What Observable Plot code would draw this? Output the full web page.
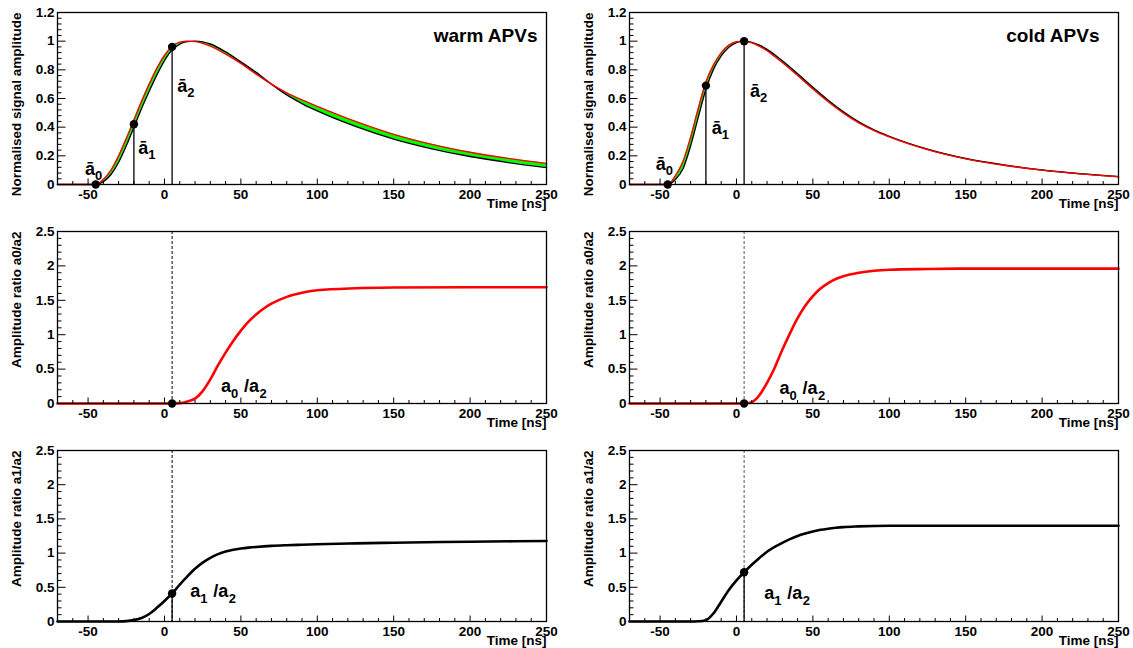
<!DOCTYPE html>
<html><head><meta charset="utf-8">
<script src="https://cdn.jsdelivr.net/npm/d3@7"></script>
<script src="https://cdn.jsdelivr.net/npm/@observablehq/plot@0.6"></script>
<style>
html,body{margin:0;padding:0;background:#fff;}
#chart{position:relative;width:1133px;height:648px;overflow:hidden;background:#fff;}
#chart > div{position:absolute;}
#chart svg{font-family:'Liberation Sans', Arial, Helvetica, sans-serif;font-weight:bold;}
</style></head><body><div id="chart"></div>
<script>
// ---------------- data ----------------
const timeTop   = [-70, -45, -40, -35, -30, -25, -20, -15, -10, -5, 0, 5, 10, 15, 20, 25, 30, 40, 50, 60, 70, 80, 90, 100, 125, 150, 175, 200, 225, 250];
const warmRed   = [0, 0, 0.035, 0.10, 0.20, 0.32, 0.45, 0.58, 0.70, 0.81, 0.90, 0.963, 0.993, 1.0, 0.997, 0.985, 0.965, 0.91, 0.845, 0.77, 0.70, 0.64, 0.59, 0.545, 0.44, 0.35, 0.28, 0.225, 0.182, 0.147];
const warmBlack = [0, 0, 0.02, 0.07, 0.155, 0.27, 0.40, 0.53, 0.65, 0.765, 0.865, 0.94, 0.98, 0.997, 1.0, 0.995, 0.98, 0.925, 0.855, 0.782, 0.70, 0.625, 0.565, 0.513, 0.405, 0.317, 0.249, 0.195, 0.153, 0.118];
const coldRed   = [0, 0, 0.06, 0.16, 0.33, 0.53, 0.715, 0.835, 0.918, 0.972, 0.996, 1.0, 0.988, 0.964, 0.933, 0.893, 0.851, 0.76, 0.666, 0.577, 0.498, 0.43, 0.376, 0.332, 0.243, 0.179, 0.134, 0.10, 0.074, 0.054];
const coldBlack = [0, 0, 0.035, 0.11, 0.27, 0.47, 0.665, 0.805, 0.897, 0.958, 0.99, 1.0, 0.992, 0.972, 0.943, 0.905, 0.863, 0.773, 0.678, 0.588, 0.507, 0.437, 0.381, 0.336, 0.246, 0.181, 0.136, 0.101, 0.075, 0.055];

const sampleTimes = [-45, -20, 5];
const warmSamples = [0, 0.42, 0.96];
const coldSamples = [0, 0.69, 1.0];

const timeRatio = [-70, -30, -25, -20, -15, -10, -5, 0, 5, 10, 15, 20, 25, 30, 35, 40, 45, 50, 55, 60, 65, 70, 80, 90, 100, 125, 150, 200, 250];
const warmA0A2  = [0, 0, 0, 0, 0, 0, 0, 0, 0, 0.005, 0.03, 0.07, 0.18, 0.35, 0.555, 0.74, 0.91, 1.06, 1.19, 1.295, 1.38, 1.45, 1.55, 1.61, 1.645, 1.675, 1.685, 1.69, 1.69];
const coldA0A2  = [0, 0, 0, 0, 0, 0, 0, 0, 0, 0.02, 0.12, 0.30, 0.52, 0.78, 1.02, 1.24, 1.42, 1.56, 1.67, 1.75, 1.81, 1.85, 1.90, 1.93, 1.945, 1.955, 1.96, 1.96, 1.96];
const warmA1A2  = [0, 0, 0.005, 0.02, 0.05, 0.11, 0.20, 0.30, 0.41, 0.54, 0.66, 0.77, 0.86, 0.93, 0.985, 1.025, 1.05, 1.067, 1.08, 1.09, 1.098, 1.105, 1.115, 1.123, 1.13, 1.142, 1.152, 1.166, 1.178];
const coldA1A2  = [0, 0, 0.003, 0.02, 0.12, 0.29, 0.46, 0.60, 0.72, 0.83, 0.93, 1.02, 1.09, 1.15, 1.205, 1.25, 1.285, 1.315, 1.34, 1.357, 1.37, 1.38, 1.39, 1.397, 1.40, 1.40, 1.40, 1.40, 1.40];

const ratioTime = 5;
const warmRatioDots = [0, 0.41];   // a0/a2, a1/a2 at ratioTime
const coldRatioDots = [0, 0.72];

const xTickLabels = [-50, 0, 50, 100, 150, 200, 250];
const xMinorTicks = [-60, -40, -30, -20, -10, 10, 20, 30, 40, 60, 70, 80, 90, 110, 120, 130, 140, 160, 170, 180, 190, 210, 220, 230, 240];
const yTicksTop   = [0, 0.2, 0.4, 0.6, 0.8, 1, 1.2];
const yMinorTop   = [0.04, 0.08, 0.12, 0.16, 0.24, 0.28, 0.32, 0.36, 0.44, 0.48, 0.52, 0.56, 0.64, 0.68, 0.72, 0.76, 0.84, 0.88, 0.92, 0.96, 1.04, 1.08, 1.12, 1.16];
const yTicksRatio = [0, 0.5, 1, 1.5, 2, 2.5];
const yMinorRatio = [0.1, 0.2, 0.3, 0.4, 0.6, 0.7, 0.8, 0.9, 1.1, 1.2, 1.3, 1.4, 1.6, 1.7, 1.8, 1.9, 2.1, 2.2, 2.3, 2.4];

// ---------------- drawing ----------------
const FONT = "'Liberation Sans', Arial, Helvetica, sans-serif";
const RED = "#ff0000", GREEN = "#00ff00";
const chart = document.getElementById("chart");
const TXT = {fontSize: 13.5, fontWeight: "bold", fontFamily: FONT, fill: "black"};

function label(x, y, parts) {
  // parts: [text, dx, dy, size]
  return parts.map(([t, dx, dy, size]) =>
    Plot.text([{x, y}], {x: "x", y: "y", text: () => t, dx, dy, fontSize: size, fontWeight: "bold",
      textAnchor: "start", lineAnchor: "bottom", fill: "black", fontFamily: FONT}));
}

function panel({left, top, width, height, mt, mb, ml, mr, yDomain, yMajor, yMinor, yTitle, marks}) {
  const fw = width - ml - mr, fh = height - mt - mb;
  const svg = Plot.plot({
    width, height, marginTop: mt, marginBottom: mb, marginLeft: ml, marginRight: mr,
    x: {domain: [-70, 250], axis: null},
    y: {domain: yDomain, axis: null},
    style: `font-family:${FONT};font-size:13.5px;font-weight:bold;background:white;color:black;overflow:visible;`,
    marks: [
      ...marks,
      Plot.ruleX(xTickLabels, {x: d => d, insetTop: fh - 5.5, stroke: "black", strokeWidth: 1}),
      Plot.ruleX(xMinorTicks, {x: d => d, insetTop: fh - 3, stroke: "black", strokeWidth: 1}),
      Plot.ruleY(yMajor, {y: d => d, insetRight: fw - 8.5, stroke: "black", strokeWidth: 1}),
      Plot.ruleY(yMinor, {y: d => d, insetRight: fw - 4.5, stroke: "black", strokeWidth: 1}),
      // tick labels
      Plot.text(xTickLabels, {x: d => d, frameAnchor: "bottom", text: d => String(d), dy: 4.5, lineAnchor: "top", textAnchor: "middle", ...TXT}),
      Plot.text(yMajor, {y: d => d, frameAnchor: "left", text: d => String(d), dx: -3, lineAnchor: "middle", textAnchor: "end", ...TXT}),
      Plot.text(["Time [ns]"], {frameAnchor: "bottom-right", text: d => d, dy: 19.5, textAnchor: "end", lineAnchor: "middle", ...TXT}),
      Plot.text([yTitle], {frameAnchor: "top-left", text: d => d, rotate: -90, dx: -41, textAnchor: "end", lineAnchor: "middle", ...TXT}),
      Plot.frame({stroke: "black", strokeWidth: 1.3})
    ]
  });
  const div = document.createElement("div");
  div.style.left = left + "px";
  div.style.top = top + "px";
  div.appendChild(svg);
  chart.appendChild(div);
}

const curve = "monotone-x";
const cols = [
  {left: 0, width: 566, ml: 57, mr: 20, name: "warm APVs", nameDx: -9, dash: "black",
   red: warmRed, black: warmBlack, samples: warmSamples, a0a2: warmA0A2, a1a2: warmA1A2, dots: warmRatioDots,
   lab: {a0: [-52, 0.065], a1: [-17.2, 0.216], a2: [8.4, 0.642], r0: [37, 0.165], r1: [16.9, 0.355]}},
  {left: 566, width: 567, ml: 63, mr: 15, name: "cold APVs", nameDx: -19, dash: "#555",
   red: coldRed, black: coldBlack, samples: coldSamples, a0a2: coldA0A2, a1a2: coldA1A2, dots: coldRatioDots,
   lab: {a0: [-52.8, 0.099], a1: [-16.2, 0.349], a2: [8.9, 0.611], r0: [28.2, 0.141], r1: [18.1, 0.33]}}
];

for (const c of cols) {
  const rows = timeTop.map((t, i) => ({t, red: c.red[i], black: c.black[i]}));
  const pts = sampleTimes.map((t, i) => ({t, v: c.samples[i]}));
  panel({
    left: c.left, top: 0, width: c.width, height: 218, mt: 12, mb: 34, ml: c.ml, mr: c.mr,
    yDomain: [0, 1.2], yMajor: yTicksTop, yMinor: yMinorTop, yTitle: "Normalised signal amplitude",
    marks: [
      Plot.areaY(rows, {x: "t", y1: "black", y2: "red", fill: GREEN, curve}),
      Plot.line(rows, {x: "t", y: "black", stroke: "black", strokeWidth: 1.4, curve}),
      Plot.line(rows, {x: "t", y: "red", stroke: RED, strokeWidth: 1.4, curve}),
      Plot.ruleX(pts.slice(1), {x: "t", y1: 0, y2: "v", stroke: "black", strokeWidth: 1.3}),
      Plot.dot(pts, {x: "t", y: "v", r: 4.2, fill: "black", stroke: "none"}),
      ...label(c.lab.a0[0], c.lab.a0[1], [["ā", 0, 0, 18], ["0", 10, 5, 13]]),
      ...label(c.lab.a1[0], c.lab.a1[1], [["ā", 0, 0, 18], ["1", 10, 5, 13]]),
      ...label(c.lab.a2[0], c.lab.a2[1], [["ā", 0, 0, 18], ["2", 10, 5, 13]]),
      Plot.text([c.name], {frameAnchor: "top-right", text: d => d, dx: c.nameDx, dy: 29.5, textAnchor: "end", lineAnchor: "bottom", fontSize: 19, fontWeight: "bold", fontFamily: FONT})
    ]
  });

  const r0 = timeRatio.map((t, i) => ({t, v: c.a0a2[i]}));
  panel({
    left: c.left, top: 218, width: c.width, height: 218, mt: 13, mb: 33, ml: c.ml, mr: c.mr,
    yDomain: [0, 2.5], yMajor: yTicksRatio, yMinor: yMinorRatio, yTitle: "Amplitude ratio a0/a2",
    marks: [
      Plot.ruleX([ratioTime], {x: d => d, stroke: c.dash, strokeWidth: 1, strokeDasharray: "3,2"}),
      Plot.line(r0, {x: "t", y: "v", stroke: RED, strokeWidth: 2.6, curve}),
      Plot.dot([{t: ratioTime, v: c.dots[0]}], {x: "t", y: "v", r: 4.2, fill: "black", stroke: "none"}),
      ...label(c.lab.r0[0], c.lab.r0[1], [["a", 0, 0, 18], ["0", 10, 6, 13], ["/a", 23, 0, 18], ["2", 38.5, 6, 13]])
    ]
  });

  const r1 = timeRatio.map((t, i) => ({t, v: c.a1a2[i]}));
  panel({
    left: c.left, top: 436, width: c.width, height: 212, mt: 14, mb: 27, ml: c.ml, mr: c.mr,
    yDomain: [0, 2.5], yMajor: yTicksRatio, yMinor: yMinorRatio, yTitle: "Amplitude ratio a1/a2",
    marks: [
      Plot.ruleX([ratioTime], {x: d => d, stroke: c.dash, strokeWidth: 1, strokeDasharray: "3,2"}),
      Plot.ruleX([{t: ratioTime, v: c.dots[1]}], {x: "t", y1: 0, y2: "v", stroke: "black", strokeWidth: 1.3}),
      Plot.line(r1, {x: "t", y: "v", stroke: "black", strokeWidth: 2.6, curve}),
      Plot.dot([{t: ratioTime, v: c.dots[1]}], {x: "t", y: "v", r: 4.2, fill: "black", stroke: "none"}),
      ...label(c.lab.r1[0], c.lab.r1[1], [["a", 0, 0, 18], ["1", 10, 6, 13], ["/a", 23, 0, 18], ["2", 38.5, 6, 13]])
    ]
  });
}
</script></body></html>
